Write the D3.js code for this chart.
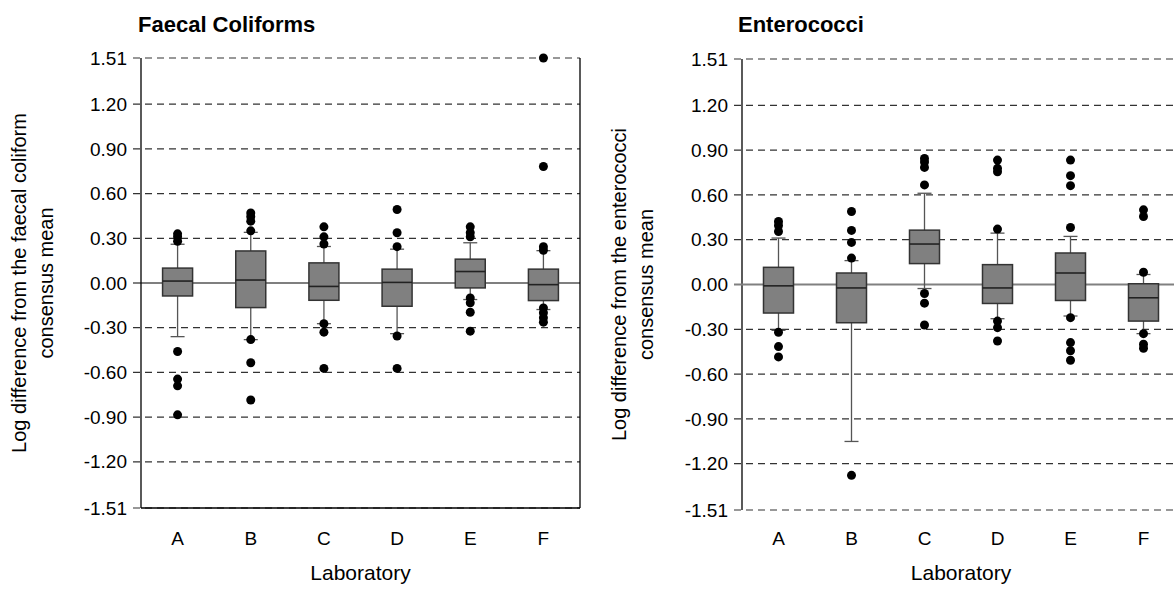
<!DOCTYPE html>
<html>
<head>
<meta charset="utf-8">
<script src="https://cdn.jsdelivr.net/npm/d3@7"></script>
<style>
  body { margin: 0; background: #fff; }
  text { font-family: Arial, "Liberation Sans", sans-serif; fill: #000; }
</style>
</head>
<body>
<div id="chart"></div>
<script>
// data
const labs = ["A", "B", "C", "D", "E", "F"];
const yTicks = [-1.51, -1.2, -0.9, -0.6, -0.3, 0, 0.3, 0.6, 0.9, 1.2, 1.51];

// Faecal coliforms
const fcQ1  = [-0.087, -0.165, -0.116, -0.156, -0.033, -0.118];
const fcMed = [0.013, 0.02, -0.023, 0.004, 0.077, -0.011];
const fcQ3  = [0.10, 0.215, 0.135, 0.093, 0.16, 0.093];
const fcLo  = [-0.36, -0.38, -0.273, -0.34, -0.111, -0.178];
const fcHi  = [0.26, 0.34, 0.245, 0.227, 0.27, 0.217];
const fcOut = [
  [0.33, 0.31, 0.28, -0.46, -0.645, -0.69, -0.885],
  [0.47, 0.445, 0.415, 0.35, -0.38, -0.535, -0.785],
  [0.377, 0.31, 0.262, -0.273, -0.33, -0.573],
  [0.493, 0.337, 0.244, -0.356, -0.573],
  [0.377, 0.337, 0.31, -0.10, -0.133, -0.196, -0.323],
  [1.51, 0.782, 0.244, 0.22, -0.167, -0.2, -0.233, -0.263]
];

// Enterococci
const entQ1  = [-0.191, -0.256, 0.14, -0.127, -0.107, -0.245];
const entMed = [-0.009, -0.023, 0.271, -0.023, 0.077, -0.089];
const entQ3  = [0.115, 0.077, 0.364, 0.133, 0.211, 0.005];
const entLo  = [-0.307, -1.051, -0.027, -0.229, -0.211, -0.329];
const entHi  = [0.311, 0.16, 0.611, 0.344, 0.322, 0.067];
const entOut = [
  [0.422, 0.395, 0.355, -0.32, -0.416, -0.485],
  [0.489, 0.362, 0.282, 0.177, -1.278],
  [0.844, 0.82, 0.784, 0.667, -0.06, -0.125, -0.271],
  [0.833, 0.778, 0.755, 0.371, -0.245, -0.289, -0.378],
  [0.833, 0.729, 0.662, 0.382, -0.222, -0.389, -0.444, -0.507],
  [0.5, 0.455, 0.082, -0.329, -0.4, -0.427]
];

const width = 1174, height = 592;

const svg = d3.select("#chart").append("svg")
  .attr("width", width)
  .attr("height", height);

function panel(o) {
  const x = d3.scaleBand().domain(labs).range([o.left, o.right]);
  const y = d3.scaleLinear().domain([-1.51, 1.51]).range([o.bottom, o.top]);
  const g = svg.append("g");
  const bw = 30, cw = 14;

  // dashed grid lines + small ticks left of the axis
  g.selectAll(".grid").data(yTicks.filter(d => d != 0)).enter().append("line")
    .attr("x1", o.left - 8).attr("x2", o.right)
    .attr("y1", d => y(d)).attr("y2", d => y(d))
    .attr("stroke", "#333").attr("stroke-width", 1.2)
    .attr("stroke-dasharray", "7,5");

  // frame
  if (o.solidBottom) {
    g.append("line").attr("x1", o.left).attr("x2", o.right)
      .attr("y1", y(-1.51)).attr("y2", y(-1.51))
      .attr("stroke", "#000").attr("stroke-width", 1.3);
  }
  g.append("line").attr("x1", o.left).attr("x2", o.left)
    .attr("y1", y(1.51)).attr("y2", y(-1.51))
    .attr("stroke", "#000").attr("stroke-width", 1.3);
  g.append("line").attr("x1", o.right).attr("x2", o.right)
    .attr("y1", y(1.51)).attr("y2", y(-1.51))
    .attr("stroke", "#000").attr("stroke-width", 1.3);

  // zero line
  g.append("line").attr("x1", o.left - 8).attr("x2", o.right)
    .attr("y1", y(0)).attr("y2", y(0))
    .attr("stroke", o.zeroColor).attr("stroke-width", o.zeroWidth);

  // y tick labels
  g.selectAll(".tl").data(yTicks).enter().append("text")
    .attr("x", o.left - 14).attr("y", d => y(d))
    .attr("dy", "0.35em")
    .attr("text-anchor", "end")
    .style("font-size", "19px")
    .text(d => d.toFixed(2));

  // boxes
  labs.forEach(function(lab, i) {
    const cx = x(lab) + x.bandwidth() / 2;
    g.append("line").attr("x1", cx).attr("x2", cx)
      .attr("y1", y(o.hi[i])).attr("y2", y(o.lo[i]))
      .attr("stroke", "#555").attr("stroke-width", 1.3);
    [o.hi[i], o.lo[i]].forEach(function(v) {
      g.append("line").attr("x1", cx - cw / 2).attr("x2", cx + cw / 2)
        .attr("y1", y(v)).attr("y2", y(v))
        .attr("stroke", "#555").attr("stroke-width", 1.3);
    });
    g.append("rect")
      .attr("x", cx - bw / 2).attr("width", bw)
      .attr("y", y(o.q3[i])).attr("height", y(o.q1[i]) - y(o.q3[i]))
      .attr("fill", "#808080").attr("stroke", "#333").attr("stroke-width", 1.5);
    g.append("line").attr("x1", cx - bw / 2).attr("x2", cx + bw / 2)
      .attr("y1", y(o.med[i])).attr("y2", y(o.med[i]))
      .attr("stroke", "#222").attr("stroke-width", 1.6);
    g.selectAll(null).data(o.out[i]).enter().append("circle")
      .attr("cx", cx).attr("cy", d => y(d)).attr("r", 4.5)
      .attr("fill", "#000");

    g.append("text").attr("x", cx).attr("y", 545)
      .attr("text-anchor", "middle").style("font-size", "19px").text(lab);
  });

  // titles
  g.append("text").attr("x", o.titleX).attr("y", 32)
    .style("font-size", "22px").style("font-weight", "bold").text(o.title);
  g.append("text").attr("x", (o.left + o.right) / 2).attr("y", 580)
    .attr("text-anchor", "middle").style("font-size", "21px").text("Laboratory");
  const yc = (o.top + o.bottom) / 2;
  o.ylab.forEach(function(t, k) {
    g.append("text")
      .attr("transform", `translate(${o.ylabX + k * 27},${yc}) rotate(-90)`)
      .attr("text-anchor", "middle").style("font-size", "20px").text(t);
  });
}

panel({
  left: 141, right: 580, top: 58, bottom: 508,
  q1: fcQ1, med: fcMed, q3: fcQ3, lo: fcLo, hi: fcHi, out: fcOut,
  title: "Faecal Coliforms", titleX: 138,
  ylab: ["Log difference from the faecal coliform", "consensus mean"], ylabX: 26,
  zeroColor: "#000", zeroWidth: 1.2, solidBottom: true
});

panel({
  left: 742, right: 1180, top: 59, bottom: 510,
  q1: entQ1, med: entMed, q3: entQ3, lo: entLo, hi: entHi, out: entOut,
  title: "Enterococci", titleX: 738,
  ylab: ["Log difference from the enterococci", "consensus mean"], ylabX: 626,
  zeroColor: "#808080", zeroWidth: 1.8, solidBottom: false
});
</script>
</body>
</html>
